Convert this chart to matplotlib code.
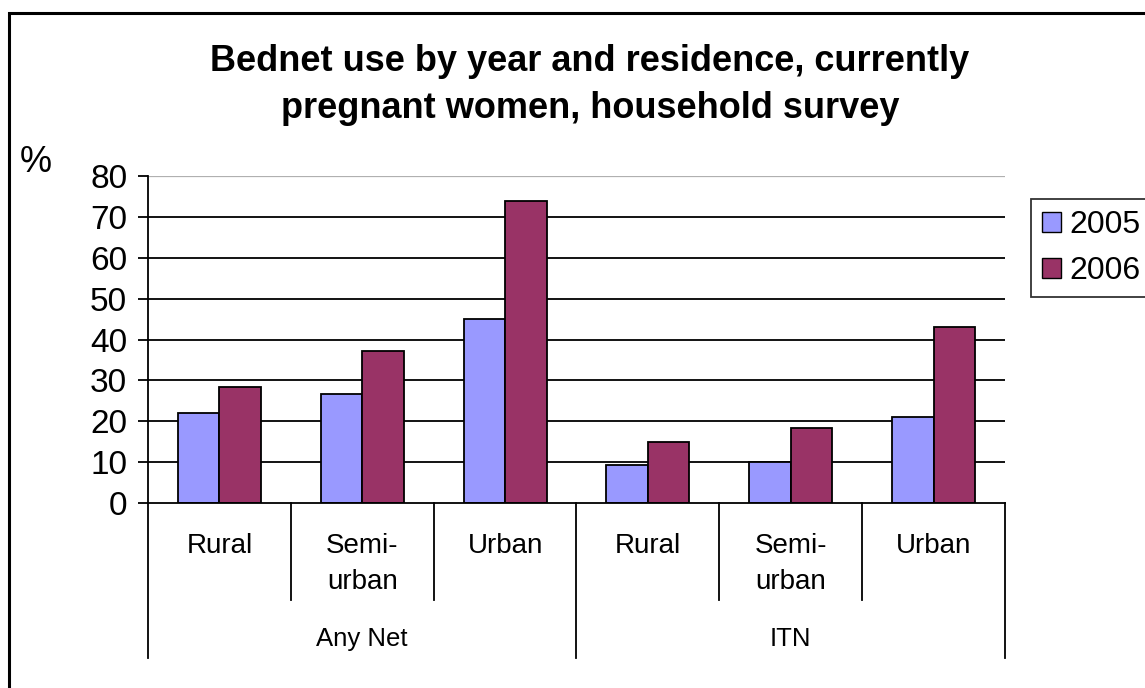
import matplotlib
matplotlib.use("Agg")
import matplotlib.pyplot as plt
from matplotlib.patches import Rectangle, Patch
from matplotlib.transforms import blended_transform_factory
import numpy as np

plt.rcParams['font.family'] = ['Liberation Sans', 'DejaVu Sans']

# bednet use (%) by residence, two net types, two survey years
residence = ["Rural", "Semi-\nurban", "Urban", "Rural", "Semi-\nurban", "Urban"]
net_types = ["Any Net", "ITN"]
years = ["2005", "2006"]
use_2005 = [22.0, 26.8, 44.9, 9.3, 10.0, 21.1]
use_2006 = [28.3, 37.2, 73.8, 15.0, 18.3, 43.0]
yticks = [0, 10, 20, 30, 40, 50, 60, 70, 80]

col_2005 = "#9999FF"
col_2006 = "#993366"

fig = plt.figure(figsize=(11.45, 6.88), dpi=100)
W, H = 1145, 688
ax_l, ax_r, ax_b, ax_t = 148, 1005, 503.3, 175.7
ax = fig.add_axes([ax_l / W, 1 - ax_b / H, (ax_r - ax_l) / W, (ax_b - ax_t) / H])

x = np.arange(len(residence))
w = 0.29
ax.bar(x - w / 2, use_2005, w, color=col_2005, edgecolor="black", linewidth=1.3, zorder=3, label=years[0])
ax.bar(x + w / 2, use_2006, w, color=col_2006, edgecolor="black", linewidth=1.3, zorder=3, label=years[1])

ax.set_xlim(-0.5, len(residence) - 0.5)
ax.set_ylim(0, 80)
ax.set_yticks(yticks)
ax.set_yticklabels([str(v) for v in yticks], fontsize=24)
ax.tick_params(axis="y", length=7, width=1.3, pad=8, color="black")
ax.set_xticks([])

for v in yticks[1:-1]:
    ax.axhline(v, color="black", linewidth=1.3, zorder=1)
ax.axhline(yticks[-1], color="#b0b0b0", linewidth=0.9, zorder=1)

for s in ["top", "right"]:
    ax.spines[s].set_visible(False)
ax.spines["left"].set_linewidth(1.3)
ax.spines["bottom"].set_linewidth(1.3)
ax.spines["bottom"].set_zorder(4)

# two-level category axis below the plot
axh = ax_b - ax_t
tr = blended_transform_factory(ax.transData, ax.transAxes)
short_d = -(600 - ax_b) / axh
long_d = -(658 - ax_b) / axh
for b in np.arange(len(residence) + 1) - 0.5:
    d = long_d if b in (-0.5, 2.5, 5.5) else short_d
    ax.plot([b, b], [0, d], color="black", linewidth=1.3, transform=tr, clip_on=False)

for i, lab in enumerate(residence):
    ax.text(i, -(533 - ax_b) / axh, lab, transform=tr, ha="center", va="top",
            fontsize=20, linespacing=1.5)
for g, lab in enumerate(net_types):
    ax.text(g * 3 + 1, -(639 - ax_b) / axh, lab, transform=tr, ha="center", va="center",
            fontsize=18.5)

fig.text(20 / W, 1 - 162 / H, "%", fontsize=26, ha="left", va="center")

fig.text(590 / W, 1 - 85 / H, "Bednet use by year and residence, currently\npregnant women, household survey",
         ha="center", va="center", fontsize=26, fontweight="bold", linespacing=1.45)

leg = fig.legend(handles=[Patch(facecolor=col_2005, edgecolor="black", label=years[0]),
                          Patch(facecolor=col_2006, edgecolor="black", label=years[1])],
                 loc="upper left", bbox_to_anchor=(1031 / W, 1 - 199 / H), fontsize=23,
                 frameon=True, fancybox=False, edgecolor="black", handlelength=0.6,
                 handleheight=0.6, handletextpad=0.25, borderpad=0.35, labelspacing=0.5,
                 borderaxespad=0)
leg.get_frame().set_linewidth(1.3)

fig.patches.append(Rectangle((9 / W, -0.1), 1.2, 1.1 - 13 / H, transform=fig.transFigure,
                             fill=False, edgecolor="black", linewidth=2.2))

fig.savefig("out.png", dpi=100)
